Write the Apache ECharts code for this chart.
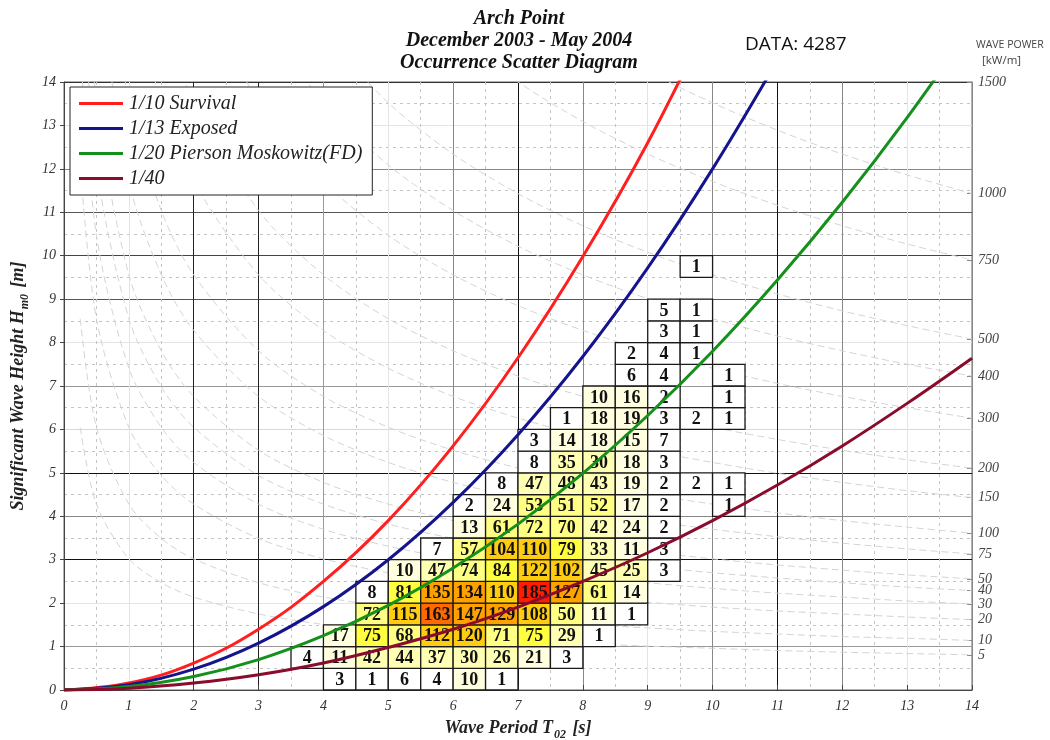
<!DOCTYPE html>
<html>
<head>
<meta charset="utf-8">
<script src="https://cdn.jsdelivr.net/npm/echarts@6/dist/echarts.min.js"></script>
<style>
  html, body { margin: 0; padding: 0; background: #fff; }
  #main { width: 1050px; height: 740px; }
</style>
</head>
<body>
<div id="main"></div>
<script>
// occurrence bins: lower edge of each 0.5 s period bin and 0.5 m height bin
var periodBins = [3.5, 4.0, 4.5, 5.0, 5.5, 6.0, 6.5, 7.0, 7.5, 8.0, 8.5, 9.0, 9.5, 10.0];
var heightBins = [0, 0.5, 1.0, 1.5, 2.0, 2.5, 3.0, 3.5, 4.0, 4.5, 5.0, 5.5, 6.0, 6.5, 7.0, 7.5, 8.0, 8.5, 9.0, 9.5];
// counts per height bin (row) and period bin (column), 0 = empty
var counts = [
  [0, 3, 1, 6, 4, 10, 1, 0, 0, 0, 0, 0, 0, 0],
  [4, 11, 42, 44, 37, 30, 26, 21, 3, 0, 0, 0, 0, 0],
  [0, 17, 75, 68, 112, 120, 71, 75, 29, 1, 0, 0, 0, 0],
  [0, 0, 72, 115, 163, 147, 129, 108, 50, 11, 1, 0, 0, 0],
  [0, 0, 8, 81, 135, 134, 110, 185, 127, 61, 14, 0, 0, 0],
  [0, 0, 0, 10, 47, 74, 84, 122, 102, 45, 25, 3, 0, 0],
  [0, 0, 0, 0, 7, 57, 104, 110, 79, 33, 11, 3, 0, 0],
  [0, 0, 0, 0, 0, 13, 61, 72, 70, 42, 24, 2, 0, 0],
  [0, 0, 0, 0, 0, 2, 24, 53, 51, 52, 17, 2, 0, 1],
  [0, 0, 0, 0, 0, 0, 8, 47, 48, 43, 19, 2, 2, 1],
  [0, 0, 0, 0, 0, 0, 0, 8, 35, 30, 18, 3, 0, 0],
  [0, 0, 0, 0, 0, 0, 0, 3, 14, 18, 15, 7, 0, 0],
  [0, 0, 0, 0, 0, 0, 0, 0, 1, 18, 19, 3, 2, 1],
  [0, 0, 0, 0, 0, 0, 0, 0, 0, 10, 16, 2, 0, 1],
  [0, 0, 0, 0, 0, 0, 0, 0, 0, 0, 6, 4, 0, 1],
  [0, 0, 0, 0, 0, 0, 0, 0, 0, 0, 2, 4, 1, 0],
  [0, 0, 0, 0, 0, 0, 0, 0, 0, 0, 0, 3, 1, 0],
  [0, 0, 0, 0, 0, 0, 0, 0, 0, 0, 0, 5, 1, 0],
  [0, 0, 0, 0, 0, 0, 0, 0, 0, 0, 0, 0, 0, 0],
  [0, 0, 0, 0, 0, 0, 0, 0, 0, 0, 0, 0, 1, 0]
];
var totalCount = 4287;

// steepness curves, H read at whole seconds
var steepT = [0, 1, 2, 3, 4, 5, 6, 7, 8, 9, 10, 11, 12, 13, 14];
var survivalH = [0, 0.16, 0.62, 1.40, 2.50, 3.90, 5.62, 7.65, 9.98, 12.6, 15.6];
var exposedH = [0, 0.12, 0.48, 1.08, 1.92, 3.00, 4.32, 5.88, 7.68, 9.72, 12.0, 14.5];
var piersonH = [0, 0.08, 0.31, 0.70, 1.25, 1.95, 2.81, 3.82, 4.99, 6.32, 7.80, 9.44, 11.23, 13.18, 15.29];
var fortyH = [0, 0.04, 0.16, 0.35, 0.62, 0.98, 1.40, 1.91, 2.50, 3.16, 3.90, 4.72, 5.62, 6.60, 7.64];

// wave power contours (kW/m), H read along the period axis
var powerT = [0.25, 0.5, 1, 1.5, 2, 3, 4, 5, 6, 7, 8, 9, 10, 11, 12, 13, 14];
var power1000 = [null, null, null, null, null, null, null, null, null, null, 15.12, 14.25, 13.52, 12.89, 12.34, 11.86, 11.43];
var power750 = [null, null, null, null, null, null, null, null, 15.12, 14.0, 13.09, 12.34, 11.71, 11.16, 10.69, 10.27, 9.90];
var power500 = [null, null, null, null, null, null, 15.12, 13.52, 12.34, 11.43, 10.69, 10.08, 9.56, 9.12, 8.73, 8.39, 8.08];
var power400 = [null, null, null, null, null, 15.61, 13.52, 12.09, 11.04, 10.22, 9.56, 9.01, 8.55, 8.15, 7.81, 7.50, 7.23];
var power300 = [null, null, null, null, 16.56, 13.52, 11.71, 10.47, 9.56, 8.85, 8.28, 7.81, 7.41, 7.06, 6.76, 6.50, 6.26];
var power200 = [null, null, null, 15.61, 13.52, 11.04, 9.56, 8.55, 7.81, 7.23, 6.76, 6.37, 6.05, 5.77, 5.52, 5.30, 5.11];
var power150 = [null, null, 16.56, 13.52, 11.71, 9.56, 8.28, 7.41, 6.76, 6.26, 5.86, 5.52, 5.24, 4.99, 4.78, 4.59, 4.43];
var power100 = [null, 19.12, 13.52, 11.04, 9.56, 7.81, 6.76, 6.05, 5.52, 5.11, 4.78, 4.51, 4.28, 4.08, 3.90, 3.75, 3.61];
var power75 = [null, 16.56, 11.71, 9.56, 8.28, 6.76, 5.86, 5.24, 4.78, 4.43, 4.14, 3.90, 3.70, 3.53, 3.38, 3.25, 3.13];
var power50 = [19.12, 13.52, 9.56, 7.81, 6.76, 5.52, 4.78, 4.28, 3.90, 3.61, 3.38, 3.19, 3.02, 2.88, 2.76, 2.65, 2.56];
var power40 = [17.10, 12.09, 8.55, 6.98, 6.05, 4.94, 4.28, 3.82, 3.49, 3.23, 3.02, 2.85, 2.70, 2.58, 2.47, 2.37, 2.29];
var power30 = [14.81, 10.47, 7.41, 6.05, 5.24, 4.28, 3.70, 3.31, 3.02, 2.80, 2.62, 2.47, 2.34, 2.23, 2.14, 2.05, 1.98];
var power20 = [12.09, 8.55, 6.05, 4.94, 4.28, 3.49, 3.02, 2.70, 2.47, 2.29, 2.14, 2.02, 1.91, 1.82, 1.75, 1.68, 1.62];
var power10 = [8.55, 6.05, 4.28, 3.49, 3.02, 2.47, 2.14, 1.91, 1.75, 1.62, 1.51, 1.43, 1.35, 1.29, 1.23, 1.19, 1.14];
var power5 = [6.05, 4.28, 3.02, 2.47, 2.14, 1.75, 1.51, 1.35, 1.23, 1.14, 1.07, 1.01, 0.96, 0.91, 0.87, 0.84, 0.81];

// right axis: power labels and the height where each sits at T = 14 s
var powerLabels = [5, 10, 20, 30, 40, 50, 75, 100, 150, 200, 300, 400, 500, 750, 1000, 1500];
var powerLabelH = [0.81, 1.14, 1.62, 1.98, 2.29, 2.56, 3.13, 3.61, 4.43, 5.11, 6.26, 7.23, 8.08, 9.90, 11.43, 14.0];

var serif = '"Liberation Serif", "Times New Roman", serif';

function pairs(xs, ys) {
  var out = [];
  for (var i = 0; i < ys.length; i++) out.push([xs[i], ys[i]]);
  return out;
}

var cellData = [];
counts.forEach(function (row, r) {
  row.forEach(function (n, c) {
    if (n > 0) cellData.push([periodBins[c], heightBins[r], n]);
  });
});

function renderCell(params, api) {
  var t = api.value(0), h = api.value(1);
  var a = api.coord([t, h + 0.5]);
  var b = api.coord([t + 0.5, h]);
  return {
    type: 'group',
    children: [{
      type: 'rect',
      shape: { x: a[0], y: a[1], width: b[0] - a[0], height: b[1] - a[1] },
      style: { fill: api.visual('color'), stroke: '#1a1a1a', lineWidth: 1.3 }
    }, {
      type: 'text',
      style: {
        text: String(api.value(2)),
        x: (a[0] + b[0]) / 2, y: (a[1] + b[1]) / 2 + 1,
        align: 'center', verticalAlign: 'middle',
        fontFamily: serif, fontWeight: 'bold', fontSize: 18, fill: '#111'
      }
    }]
  };
}

function curve(name, ys, color) {
  return {
    name: name, type: 'line', data: pairs(steepT, ys), smooth: 0.4,
    showSymbol: false, symbol: 'none', z: 4,
    lineStyle: { color: color, width: 3 }, itemStyle: { color: color }
  };
}

var contours = [power1000, power750, power500, power400, power300, power200, power150,
  power100, power75, power50, power40, power30, power20, power10, power5].map(function (ys) {
  return {
    type: 'line', data: pairs(powerT, ys), smooth: 0.3, showSymbol: false, symbol: 'none',
    silent: true, z: 1, connectNulls: false,
    lineStyle: { color: '#d4d4d4', width: 1, type: [7, 4] }
  };
});

var xLineColors = ['#444', '#e4e4e4', '#222', '#222', '#999', '#e4e4e4', '#888', '#111',
  '#888', '#e4e4e4', '#888', '#111', '#888', '#e4e4e4', '#666'];
var yLineColors = ['#444', '#999', '#e4e4e4', '#111', '#888', '#111', '#d8d8d8', '#999',
  '#e4e4e4', '#555', '#444', '#555', '#888', '#e4e4e4', '#333'];

var chart = echarts.init(document.getElementById('main'));
chart.setOption({
  animation: false,
  backgroundColor: '#fff',
  title: {
    text: 'Arch Point\nDecember 2003 - May 2004\nOccurrence Scatter Diagram',
    left: 514, top: 3, textAlign: 'center',
    textStyle: { fontFamily: serif, fontStyle: 'italic', fontWeight: 'bold', fontSize: 20, lineHeight: 22, color: '#111' }
  },
  graphic: [
    { type: 'text', left: 745, top: 35, style: { text: 'DATA: ' + totalCount, fontFamily: '"Open Sans", sans-serif', fontSize: 19, fill: '#111' } },
    { type: 'text', left: 976, top: 40, style: { text: 'WAVE POWER', fontFamily: '"Open Sans", sans-serif', fontSize: 10.5, fill: '#444' } },
    { type: 'text', left: 982, top: 55, style: { text: '[kW/m]', fontFamily: '"Open Sans", sans-serif', fontSize: 11.5, fill: '#444' } }
  ],
  legend: {
    data: ['1/10 Survival', '1/13 Exposed', '1/20 Pierson Moskowitz(FD)', '1/40'],
    orient: 'vertical', left: 70, top: 87,
    padding: [4, 10, 4, 9], itemGap: 0,
    icon: 'rect', itemWidth: 44, itemHeight: 3,
    backgroundColor: '#fff', borderColor: '#222', borderWidth: 1, borderRadius: 0,
    selectedMode: false,
    textStyle: { fontFamily: serif, fontStyle: 'italic', fontSize: 20, lineHeight: 25, color: '#222', padding: [0, 0, 0, 1] }
  },
  grid: {
    left: 64, right: 78, top: 82, bottom: 50, outerBoundsMode: 'none', containLabel: false,
    show: true, borderColor: '#666', borderWidth: 1
  },
  visualMap: {
    show: false, type: 'piecewise', seriesIndex: 0, dimension: 2,
    pieces: [
      { lt: 10, color: '#ffffff' },
      { gte: 10, lt: 25, color: '#ffffe0' },
      { gte: 25, lt: 50, color: '#ffffb4' },
      { gte: 50, lt: 75, color: '#ffff84' },
      { gte: 75, lt: 100, color: '#ffff40' },
      { gte: 100, lt: 125, color: '#ffcc10' },
      { gte: 125, lt: 150, color: '#ffa200' },
      { gte: 150, lt: 180, color: '#ff6a00' },
      { gte: 180, color: '#ff1c00' }
    ]
  },
  xAxis: {
    type: 'value', min: 0, max: 14, interval: 1,
    name: '{a|Wave Period T}{s|02}{a| [s]}', nameLocation: 'middle', nameGap: 26,
    nameTextStyle: {
      rich: {
        a: { fontFamily: serif, fontStyle: 'italic', fontWeight: 'bold', fontSize: 18, color: '#222', lineHeight: 20 },
        s: { fontFamily: serif, fontStyle: 'italic', fontWeight: 'bold', fontSize: 12, color: '#222', padding: [13, 2, 0, 1] }
      }
    },
    axisLine: { lineStyle: { color: '#444' } },
    axisTick: { inside: true, length: 5, lineStyle: { color: '#444' } },
    axisLabel: { fontFamily: serif, fontStyle: 'italic', fontSize: 14, color: '#333', margin: 9 },
    splitLine: { show: true, lineStyle: { color: xLineColors, width: 1 } },
    minorTick: { show: false, splitNumber: 2 },
    minorSplitLine: { show: true, lineStyle: { color: '#c4c4c4', type: [3, 4], width: 1 } }
  },
  yAxis: [{
    type: 'value', min: 0, max: 14, interval: 1,
    name: '{a|Significant Wave Height H}{s|m0}{a| [m]}', nameLocation: 'middle', nameGap: 31,
    nameTextStyle: {
      rich: {
        a: { fontFamily: serif, fontStyle: 'italic', fontWeight: 'bold', fontSize: 18, color: '#222', lineHeight: 20 },
        s: { fontFamily: serif, fontStyle: 'italic', fontWeight: 'bold', fontSize: 12, color: '#222', padding: [13, 2, 0, 1] }
      }
    },
    axisLine: { lineStyle: { color: '#444' } },
    axisTick: { inside: false, length: 4, lineStyle: { color: '#444' } },
    axisLabel: { fontFamily: serif, fontStyle: 'italic', fontSize: 14, color: '#333', margin: 8 },
    splitLine: { show: true, lineStyle: { color: yLineColors, width: 1 } },
    minorTick: { show: false, splitNumber: 2 },
    minorSplitLine: { show: true, lineStyle: { color: '#c4c4c4', type: [3, 4], width: 1 } }
  }, {
    type: 'value', min: 0, max: 14, position: 'right',
    axisLine: { show: true, lineStyle: { color: '#888' } },
    axisTick: { show: true, inside: true, length: 5, customValues: powerLabelH, lineStyle: { color: '#888' } },
    axisLabel: {
      customValues: powerLabelH, margin: 6,
      fontFamily: serif, fontStyle: 'italic', fontSize: 14, color: '#444',
      formatter: function (v) {
        var best = 0;
        for (var i = 0; i < powerLabelH.length; i++) {
          if (Math.abs(powerLabelH[i] - v) < Math.abs(powerLabelH[best] - v)) best = i;
        }
        return String(powerLabels[best]);
      }
    },
    splitLine: { show: false }
  }],
  series: [{
    type: 'custom', renderItem: renderCell, data: cellData, z: 2,
    encode: { x: 0, y: 1 }, silent: true
  },
    curve('1/10 Survival', survivalH, '#ff1f1f'),
    curve('1/13 Exposed', exposedH, '#14148c'),
    curve('1/20 Pierson Moskowitz(FD)', piersonH, '#16901c'),
    curve('1/40', fortyH, '#8a0c2c')
  ].concat(contours)
});
</script>
</body>
</html>
